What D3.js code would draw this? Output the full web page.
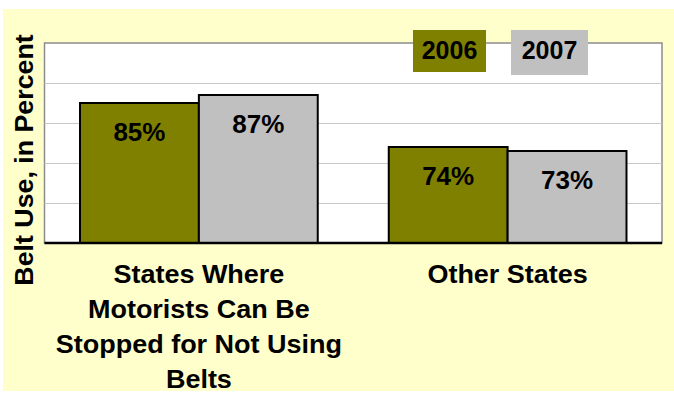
<!DOCTYPE html>
<html>
<head>
<meta charset="utf-8">
<script src="https://cdn.jsdelivr.net/npm/d3@7"></script>
<style>
  body { margin: 0; background: #fff; }
  text { font-family: "Liberation Sans", Arial, sans-serif; font-weight: bold; fill: #000; }
</style>
</head>
<body>
<script>
  "use strict";

  // data
  var categories = ["States Where Motorists Can Be Stopped for Not Using Belts", "Other States"];
  var categoryLines = [["States Where", "Motorists Can Be", "Stopped for Not Using", "Belts"], ["Other States"]];
  var years = ["2006", "2007"];
  var values2006 = [85, 74];
  var values2007 = [87, 73];
  var gridTicks = [50, 60, 70, 80, 90, 100];
  var colors = ["#808000", "#C0C0C0"];

  function draw() {
    var W = 674, H = 394;
    var pLeft = 44.5, pRight = 662, pTop = 43, pBottom = 243;

    var svg = d3.select("body").append("svg")
        .attr("width", W).attr("height", H);

    // yellow background
    svg.append("rect").attr("x", 3).attr("y", 9)
        .attr("width", W - 3).attr("height", 382)
        .attr("fill", "#FFFFCC");

    var y = d3.scaleLinear().domain([50, 100]).range([pBottom, pTop]);
    var x0 = d3.scaleBand().domain(categories).range([pLeft, pRight])
        .paddingInner(0.23).paddingOuter(0.115);
    var x1 = d3.scaleBand().domain(years).range([0, x0.bandwidth()]);

    // plot area
    svg.append("rect").attr("x", pLeft).attr("y", pTop)
        .attr("width", pRight - pLeft).attr("height", pBottom - pTop)
        .attr("fill", "#fff").attr("stroke", "#8c8c8c").attr("stroke-width", 1.5);

    svg.append("g").selectAll("line")
        .data(gridTicks.slice(1, -1))
      .join("line")
        .attr("x1", pLeft).attr("x2", pRight)
        .attr("y1", function(d) { return Math.round(y(d)) + 0.5; })
        .attr("y2", function(d) { return Math.round(y(d)) + 0.5; })
        .attr("stroke", "#c8c8c8").attr("stroke-width", 1);

    var rows = [];
    categories.forEach(function(c, i) {
      rows.push({cat: c, year: "2006", v: values2006[i]});
      rows.push({cat: c, year: "2007", v: values2007[i]});
    });

    var bars = svg.append("g").selectAll("g")
        .data(rows)
      .join("g");

    bars.append("rect")
        .attr("x", function(d) { return x0(d.cat) + x1(d.year); })
        .attr("y", function(d) { return y(d.v); })
        .attr("width", x1.bandwidth())
        .attr("height", function(d) { return pBottom - y(d.v); })
        .attr("fill", function(d) { return colors[years.indexOf(d.year)]; })
        .attr("stroke", "#000").attr("stroke-width", 2);

    bars.append("text")
        .attr("x", function(d) { return x0(d.cat) + x1(d.year) + x1.bandwidth() / 2; })
        .attr("y", function(d) { return y(d.v) + 38; })
        .attr("text-anchor", "middle")
        .style("font-size", "26px")
        .text(function(d) { return d.v + "%"; });

    // x axis line
    svg.append("line").attr("x1", pLeft).attr("x2", pRight)
        .attr("y1", pBottom).attr("y2", pBottom)
        .attr("stroke", "#000").attr("stroke-width", 2.5);

    // category labels (glyphs a bit wider than Liberation Sans)
    categories.forEach(function(c, i) {
      var t = svg.append("g")
          .attr("transform", "translate(" + (x0(c) + x0.bandwidth() / 2) + ",0) scale(1.08,1)")
        .append("text")
          .attr("text-anchor", "middle")
          .style("font-size", "25px");
      categoryLines[i].forEach(function(line, j) {
        t.append("tspan")
            .attr("x", 0)
            .attr("y", 283.5 + j * 34.7)
            .text(line);
      });
    });

    // y title
    svg.append("text")
        .attr("transform", "translate(33,160) rotate(-90) scale(1.03,1)")
        .attr("text-anchor", "middle")
        .style("font-size", "26px")
        .text("Belt Use, in Percent");

    // legend
    var legX = [413, 511];
    var leg = svg.append("g").selectAll("g")
        .data(years)
      .join("g")
        .attr("transform", function(d, i) { return "translate(" + legX[i] + ",30)"; });
    leg.append("rect")
        .attr("width", function(d, i) { return i === 0 ? 73 : 77; })
        .attr("height", function(d, i) { return i === 0 ? 42 : 45; })
        .attr("fill", function(d, i) { return colors[i]; });
    leg.append("text")
        .attr("x", function(d, i) { return i === 0 ? 36.5 : 38.5; })
        .attr("y", 29)
        .attr("text-anchor", "middle")
        .style("font-size", "25px")
        .text(function(d) { return d; });
  }

  draw();
</script>
</body>
</html>
